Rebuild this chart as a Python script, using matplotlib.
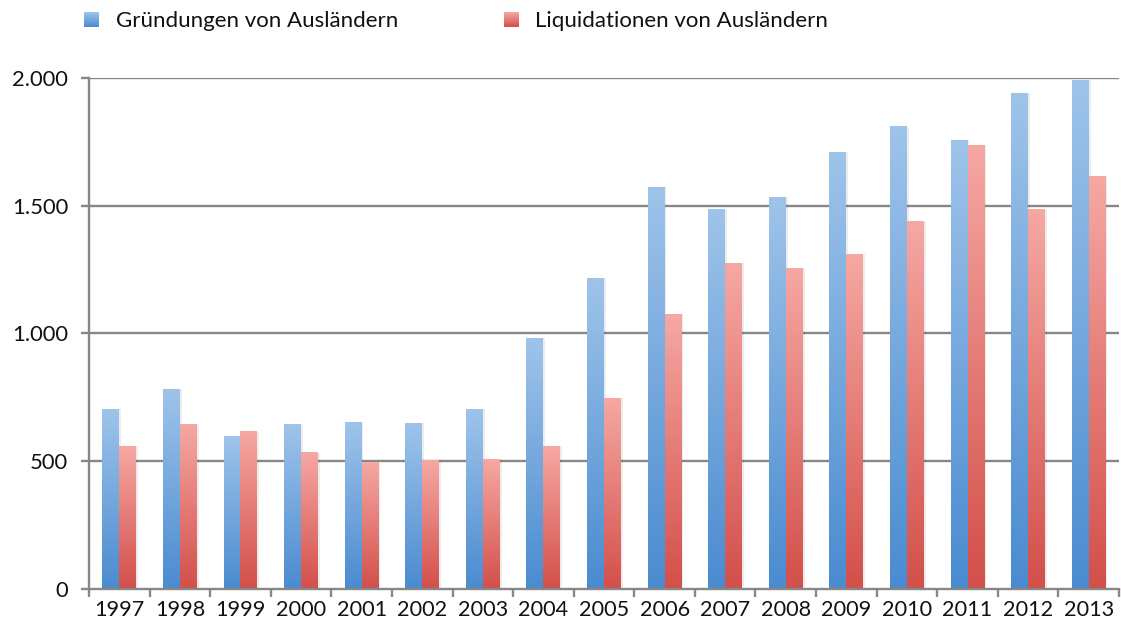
"""
Gründungen und Liquidationen von Ausländern, 1997-2013.
Grouped bar chart with vertical gradient fills, Excel style.
"""

import numpy as np
import matplotlib
matplotlib.use("Agg")
import matplotlib.pyplot as plt
from matplotlib.colors import LinearSegmentedColormap
from matplotlib.ticker import FixedLocator, FuncFormatter

# data
years = ["1997", "1998", "1999", "2000", "2001", "2002", "2003", "2004", "2005",
         "2006", "2007", "2008", "2009", "2010", "2011", "2012", "2013"]
gruendungen = [704, 782, 596, 642, 652, 648, 703, 981, 1215,
               1571, 1483, 1532, 1708, 1809, 1754, 1939, 1990]
liquidationen = [559, 642, 615, 533, 493, 502, 507, 559, 746,
                 1075, 1274, 1255, 1310, 1436, 1736, 1484, 1613]
series_names = ["Gründungen von Ausländern", "Liquidationen von Ausländern"]
yticks = [0, 500, 1000, 1500, 2000]

FONT = ["Lato", "DejaVu Sans"]
GRID = "#878787"
TEXT = "#111111"
blue_cmap = LinearSegmentedColormap.from_list("b", ["#4a8bd0", "#9fc4ea"])
red_cmap = LinearSegmentedColormap.from_list("r", ["#d34f4a", "#f6a8a3"])
grad = np.linspace(0, 1, 256).reshape(-1, 1)


def gradient_bars(ax, x, values, width, cmap):
    """Draw bars through ax.bar, then fill each one with a vertical gradient."""
    # soft shadow on the right side
    ax.bar(x + 0.03, values, width, align="edge", color="black",
           alpha=0.07, zorder=2, linewidth=0)
    bars = ax.bar(x, values, width, align="edge", color="none",
                  linewidth=0, zorder=3)
    for rect in bars:
        x0, y0 = rect.get_x(), rect.get_y()
        ax.imshow(grad, cmap=cmap, origin="lower", aspect="auto",
                  extent=(x0, x0 + rect.get_width(), y0, y0 + rect.get_height()),
                  zorder=3, interpolation="bilinear")


def main():
    fig = plt.figure(figsize=(11.21, 6.25), dpi=100)
    ax = fig.add_axes([89 / 1121, 1 - 589 / 625, 1030 / 1121, (589 - 77.7) / 625])

    x = np.arange(len(years))
    w = 0.28
    gradient_bars(ax, x - w, gruendungen, w, blue_cmap)
    gradient_bars(ax, x, liquidationen, w, red_cmap)

    ax.set_xlim(-0.5, len(years) - 0.5)
    ax.set_ylim(0, 2000)

    # horizontal grid lines
    for t in yticks[1:]:
        ax.axhline(t, color=GRID, linewidth=1.7, zorder=1)

    for side in ("top", "right"):
        ax.spines[side].set_visible(False)
    for side in ("left", "bottom"):
        ax.spines[side].set_color(GRID)
        ax.spines[side].set_linewidth(1.7)
        ax.spines[side].set_zorder(4)

    ax.yaxis.set_major_locator(FixedLocator(yticks))
    ax.yaxis.set_major_formatter(FuncFormatter(
        lambda v, p: f"{int(v):,}".replace(",", ".")))
    ax.tick_params(axis="y", length=6, width=1.7, color=GRID, pad=9,
                   labelsize=15.8, labelcolor=TEXT)

    # labels at centres, tick marks between the categories
    ax.set_xticks(x)
    ax.set_xticklabels(years)
    ax.set_xticks(np.arange(len(years) + 1) - 0.5, minor=True)
    ax.tick_params(axis="x", which="major", length=0, pad=8,
                   labelsize=15.6, labelcolor=TEXT)
    ax.tick_params(axis="x", which="minor", length=6, width=1.7, color=GRID)

    for lab in ax.get_xticklabels() + ax.get_yticklabels():
        lab.set_family(FONT)

    # legend, drawn by hand so the two entries sit where they do in the original
    for name, cmap, sx, tx in zip(series_names, [blue_cmap, red_cmap],
                                  [84, 504], [116, 535]):
        lax = fig.add_axes([sx / 1121, 1 - 27 / 625, 15 / 1121, 15 / 625])
        lax.imshow(grad, cmap=cmap, origin="lower", aspect="auto",
                   extent=(0, 1, 0, 1))
        lax.set_xlim(0, 1)
        lax.set_ylim(0, 1)
        lax.axis("off")
        fig.text(tx / 1121, 1 - 21 / 625, name, family=FONT, fontsize=16,
                 color=TEXT, va="center", ha="left")

    fig.savefig("out.png", dpi=100, facecolor="white")


if __name__ == "__main__":
    main()
